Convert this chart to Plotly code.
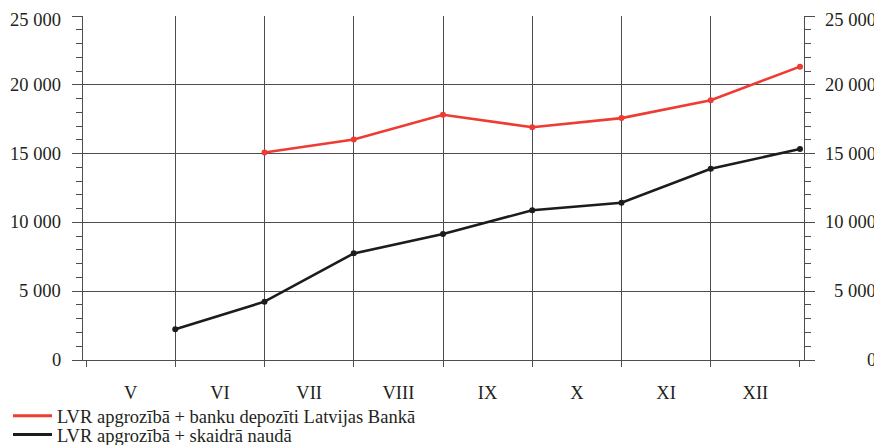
import plotly.graph_objects as go

months = ["V", "VI", "VII", "VIII", "IX", "X", "XI", "XII"]

# values at month ends (end of V ... end of XII)
black_pos = [1, 2, 3, 4, 5, 6, 7, 8]
black_vals = [2230, 4240, 7750, 9160, 10880, 11430, 13900, 15330]

red_pos = [2, 3, 4, 5, 6, 7, 8]
red_vals = [15080, 16030, 17820, 16920, 17580, 18880, 21320]

red_name = "LVR apgrozībā + banku depozīti Latvijas Bankā"
black_name = "LVR apgrozībā + skaidrā naudā"

y_ticks = [0, 5000, 10000, 15000, 20000, 25000]

RED = "#ee3b33"
BLACK = "#1c1c1c"
GRID = "#4d4d4d"
FONT = "Liberation Serif, Times New Roman, DejaVu Serif, serif"
FSIZE = 18.5

fig = go.Figure()

fig.add_trace(go.Scatter(
    x=black_pos, y=black_vals, mode="lines+markers",
    line=dict(color=BLACK, width=2.6), marker=dict(color=BLACK, size=6),
    showlegend=False, xaxis="x", yaxis="y"))
fig.add_trace(go.Scatter(
    x=red_pos, y=red_vals, mode="lines+markers",
    line=dict(color=RED, width=2.6), marker=dict(color=RED, size=6),
    showlegend=False, xaxis="x2", yaxis="y"))

# legend entries (line only), one legend per row for tight spacing
fig.add_trace(go.Scatter(x=[None], y=[None], mode="lines", name=red_name,
                         line=dict(color=RED, width=3), legend="legend"))
fig.add_trace(go.Scatter(x=[None], y=[None], mode="lines", name=black_name,
                         line=dict(color=BLACK, width=3), legend="legend2"))

x_range = [-0.034, 8.045]

legend_style = dict(
    x=-0.104, xanchor="left", yanchor="top",
    bgcolor="rgba(0,0,0,0)",
    font=dict(family=FONT, size=FSIZE),
    itemwidth=39,
)

# page body adds an 8px margin, so the figure is 8px smaller than the window
fig.update_layout(
    width=874, height=437,
    margin=dict(l=75, r=78, t=8, b=85, autoexpand=False),
    paper_bgcolor="white", plot_bgcolor="white",
    font=dict(family=FONT, size=FSIZE, color="#231f20"),
    xaxis=dict(
        range=x_range,
        tickmode="array",
        tickvals=[i + 0.5 for i in range(len(months))],
        ticktext=months,
        ticks="",
        showgrid=False, zeroline=False,
        showline=True, linecolor=GRID, linewidth=1.3,
        ticklabelstandoff=16,
        minor=dict(tickmode="array", tickvals=list(range(len(months) + 1)),
                   ticks="outside", ticklen=6, tickcolor=GRID, tickwidth=1.3,
                   showgrid=False),
    ),
    xaxis2=dict(
        overlaying="x", matches="x", anchor="y",
        range=x_range,
        tickmode="array", tickvals=list(range(1, len(months))),
        showticklabels=False, ticks="",
        showgrid=True, gridcolor=GRID, gridwidth=1.3,
        zeroline=False, showline=False,
    ),
    yaxis=dict(
        range=[0, 25000],
        tickmode="array", tickvals=y_ticks,
        showticklabels=False,
        ticks="outside", ticklen=10, tickcolor=GRID, tickwidth=1.3,
        showgrid=True, gridcolor=GRID, gridwidth=1.3,
        zeroline=False,
        showline=True, linecolor=GRID, linewidth=1.3,
        mirror="ticks",
        minor=dict(dtick=1000, ticks="outside", ticklen=6,
                   tickcolor=GRID, tickwidth=1.3, showgrid=False),
    ),
    legend=dict(y=-0.108, **legend_style),
    legend2=dict(y=-0.163, **legend_style),
)

# y labels on both sides, right aligned like the original
for v in y_ticks:
    label = f"{v:,}".replace(",", " ")
    shift = -4 if v == y_ticks[-1] else 0
    for xpos, xs in [(0, -20), (1, 74)]:
        fig.add_annotation(
            xref="paper", x=xpos, xanchor="right", xshift=xs,
            yref="y", y=v, yanchor="middle", yshift=shift,
            text=label, showarrow=False,
            font=dict(family=FONT, size=FSIZE, color="#231f20"))

fig.write_html("out.html")
